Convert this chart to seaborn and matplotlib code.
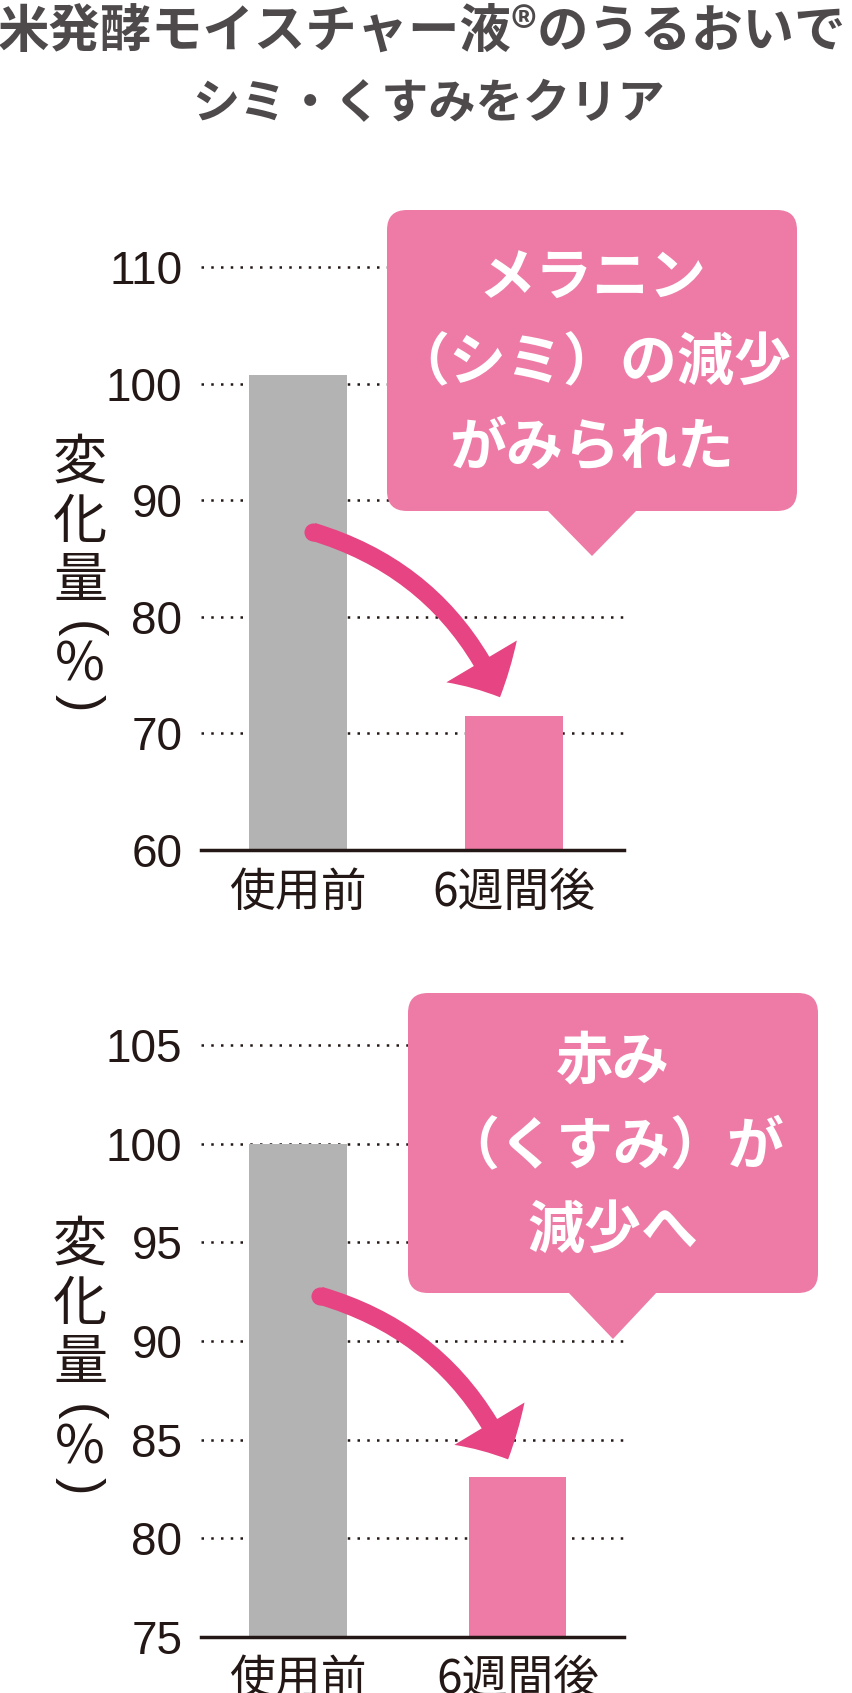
import matplotlib
matplotlib.use('Agg')
import matplotlib.pyplot as plt
from matplotlib.patches import FancyArrowPatch, FancyBboxPatch, Polygon
import seaborn as sns

# data
periods = ['使用前', '6週間後']
melanin = [100.7, 71.5]
redness = [100.0, 83.1]
melanin_ticks = [60, 70, 80, 90, 100, 110]
redness_ticks = [75, 80, 85, 90, 95, 100, 105]
title_lines = ['米発酵モイスチャー液®のうるおいで', 'シミ・くすみをクリア']
melanin_note = ['メラニン', '（シミ）の減少', 'がみられた']
redness_note = ['赤み', '（くすみ）が', '減少へ']
ylabel_chars = ['変', '化', '量', '(', '%', ')']

GRAY = '#b3b3b3'
PINK = '#ee7ba6'
ARROW = '#e64482'
INK = '#231815'
TITLE = '#4e4a4b'

sns.set_style('white')
plt.rcParams['font.family'] = ['Noto Sans CJK JP', 'DejaVu Sans']

W, H = 852, 1693
fig = plt.figure(figsize=(W / 100, H / 100), dpi=100)


def px_rect(left, top, right, bottom):
    return [left / W, 1 - bottom / H, (right - left) / W, (bottom - top) / H]


def draw_panel(rect, values, ticks, xlim, width):
    ax = fig.add_axes(rect)
    sns.barplot(x=periods, y=values, hue=periods, palette=[GRAY, PINK],
                saturation=1, width=width, linewidth=0, legend=False, ax=ax)
    ax.set_ylim(ticks[0], ticks[-1])
    ax.set_xlim(*xlim)
    ax.set_yticks(ticks)
    ax.grid(axis='y', color=INK, linestyle=(0, (1, 2.9)), linewidth=1.8)
    ax.grid(axis='x', visible=False)
    ax.set_axisbelow(True)
    for ln in ax.get_ygridlines():
        ln.set_clip_on(False)
    for s in ['left', 'top', 'right']:
        ax.spines[s].set_visible(False)
    ax.spines['bottom'].set_color(INK)
    ax.spines['bottom'].set_linewidth(2.5)
    ax.tick_params(axis='both', length=0, colors=INK)
    ax.tick_params(axis='y', pad=13.5, labelsize=33)
    ax.tick_params(axis='x', pad=13, labelsize=33)
    for lab in ax.get_yticklabels():
        lab.set_fontfamily(['Liberation Sans', 'DejaVu Sans'])
    ax.set_xlabel('')
    ax.set_ylabel('')
    return ax


def draw_arrow(ax, start, tip):
    arr = FancyArrowPatch(start, tip,
                          arrowstyle='simple,head_length=29,head_width=59,tail_width=13',
                          connectionstyle='arc3,rad=-0.23', mutation_scale=1,
                          color=ARROW, lw=0, shrinkA=0, shrinkB=0, zorder=4, clip_on=False)
    ax.add_patch(arr)
    ax.plot(*start, 'o', ms=13, color=ARROW, mew=0, zorder=4, clip_on=False)


ax1 = draw_panel(px_rect(201, 267, 624, 850), melanin, melanin_ticks, (-0.449, 1.509), 0.454)
ax2 = draw_panel(px_rect(201, 1045, 624, 1637), redness, redness_ticks, (-0.442, 1.485), 0.446)

draw_arrow(ax1, (0.068, 87.3), (0.935, 73.1))
draw_arrow(ax2, (0.1, 92.3), (0.957, 84.0))

# overlay in pixel units for callouts and text
ov = fig.add_axes([0, 0, 1, 1], zorder=5)
ov.set_xlim(0, W)
ov.set_ylim(H, 0)
ov.axis('off')
ov.patch.set_alpha(0)


def draw_bubble(left, top, right, bottom, base, tip, lines, cx, ys):
    ov.add_patch(FancyBboxPatch((left, top), right - left, bottom - top,
                                boxstyle='round,pad=0,rounding_size=20', fc=PINK, ec='none'))
    ov.add_patch(Polygon([(base[0], bottom - 2), (base[1], bottom - 2), tip], fc=PINK, ec='none'))
    for line, y in zip(lines, ys):
        ov.text(cx, y, line, ha='center', va='center', color='white',
                fontsize=41, fontweight='bold')


draw_bubble(387, 210, 797, 511, (546, 638), (592, 556), melanin_note, 592, [279, 363, 448])
draw_bubble(408, 993, 818, 1293, (567, 658), (613, 1339), redness_note, 613, [1061, 1146, 1231])

# vertical y label: brackets turned on their side as in vertical writing
for cy in [558.5, 1341]:
    for ch, off in zip(ylabel_chars, [-95.5, -36.5, 22.5, 71.5, 106.5, 144.5]):
        if ch in '()':
            ov.text(80, cy + off, ch, ha='center', va='center', color=INK,
                    fontsize=38, rotation=-90, family=['Liberation Sans', 'DejaVu Sans'])
        else:
            ov.text(80, cy + off, ch, ha='center', va='center', color=INK, fontsize=39)

# title
ov.text(422, 31, title_lines[0], ha='center', va='center', color=TITLE,
        fontsize=37, fontweight='bold')
ov.text(428, 104, title_lines[1], ha='center', va='center', color=TITLE,
        fontsize=34, fontweight='bold')

fig.savefig('out.png', dpi=100)
